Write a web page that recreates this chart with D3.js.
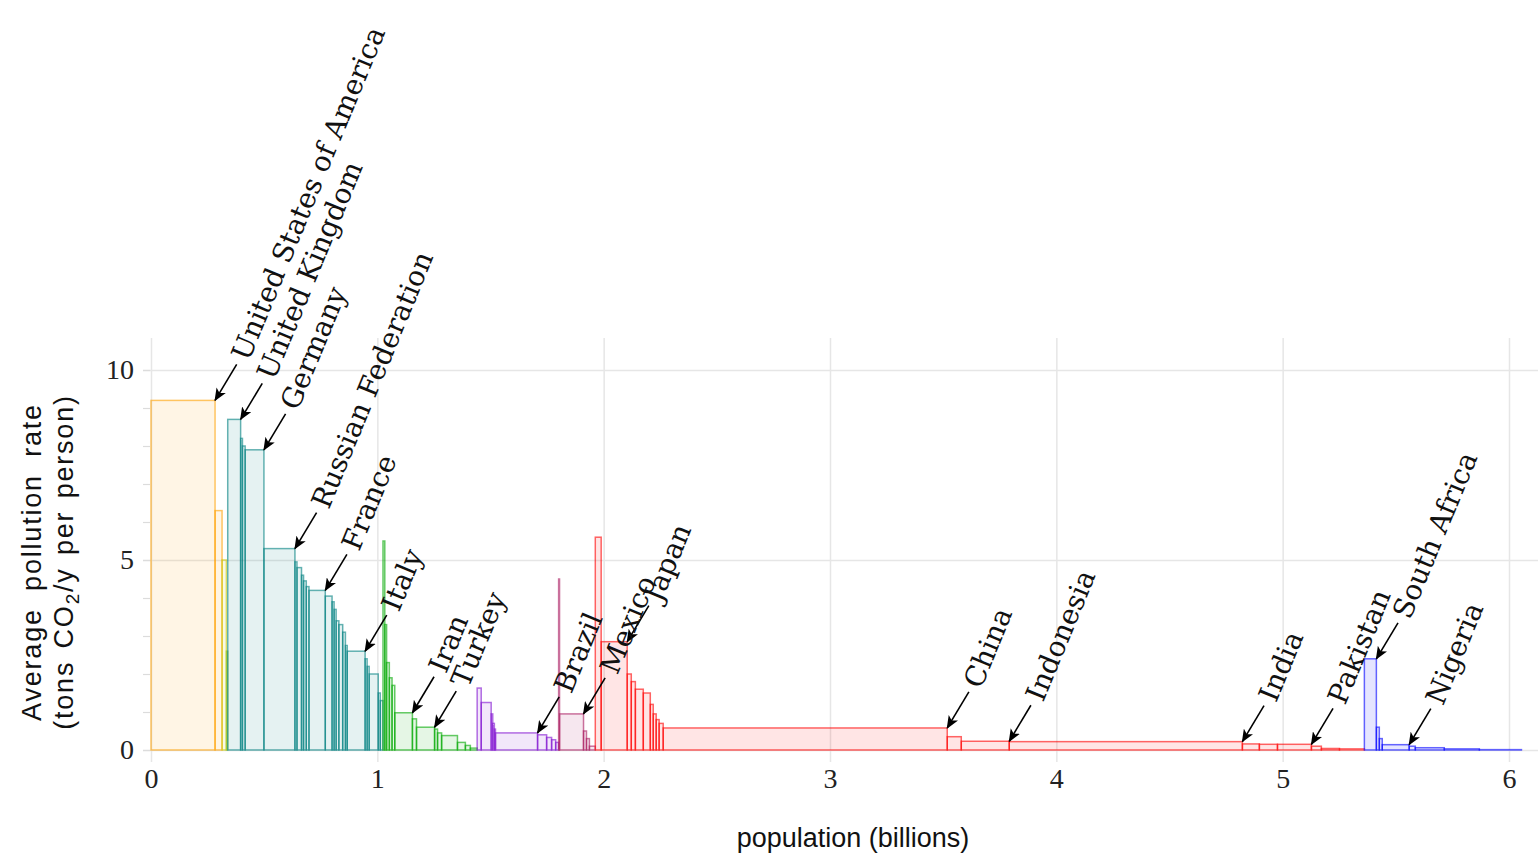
<!DOCTYPE html>
<html>
<head>
<meta charset="utf-8">
<script src="https://cdn.jsdelivr.net/npm/d3@7/dist/d3.min.js"></script>
<style>
  body { margin: 0; background: #fff; }
</style>
</head>
<body>
<div id="chart"></div>
<script>
// one entry per bar, in drawing order (left to right)
var barRegion = ["NA","NA","OC","OC2",
  "EU","EU","EU","EU","EU","EU","EU","EU","EU","EU","EU","EU","EU","EU","EU","EU","EU","EU","EU","EU","EU","EU","EU","EU",
  "ME","ME","ME","ME","ME","ME","ME","ME","ME","ME","ME","ME","ME","ME",
  "LA","LA","LA","LA","LA","LA","LA","LA","LA","LA",
  "CA","CA","CA","CA","CA",
  "AS","AS","AS","AS","AS","AS","AS","AS","AS","AS","AS","AS","AS","AS","AS","AS","AS","AS","AS","AS",
  "AF","AF","AF","AF","AF","AF","AF","AF"];

// population, billions
var barPop = [0.283, 0.031, 0.019, 0.006,
  0.057, 0.008, 0.012, 0.083, 0.137, 0.009, 0.020, 0.009, 0.012, 0.012, 0.072, 0.030, 0.009, 0.009, 0.012, 0.017, 0.012, 0.008, 0.079, 0.009, 0.009, 0.040, 0.009, 0.012,
  0.008, 0.008, 0.012, 0.012, 0.012, 0.078, 0.018, 0.080, 0.013, 0.018, 0.070, 0.035, 0.022, 0.030,
  0.018, 0.044, 0.007, 0.007, 0.005, 0.186, 0.040, 0.022, 0.018, 0.013,
  0.004, 0.106, 0.013, 0.013, 0.026,
  0.026, 0.115, 0.018, 0.018, 0.035, 0.031, 0.013, 0.013, 0.013, 0.018, 1.255, 0.062, 0.212, 1.030, 0.075, 0.080, 0.150, 0.044, 0.080, 0.110,
  0.053, 0.013, 0.013, 0.119, 0.027, 0.128, 0.155, 0.186];

// tons CO2 per year per person
var barRate = [9.2, 6.3, 5.0, 2.6,
  8.7, 8.2, 8.0, 7.9, 5.3, 4.95, 4.8, 4.6, 4.45, 4.3, 4.2, 4.05, 3.9, 3.7, 3.4, 3.3, 3.1, 2.75, 2.6, 2.4, 2.2, 2.0, 1.5, 1.3,
  5.5, 3.3, 2.3, 1.9, 1.7, 0.98, 0.82, 0.6, 0.55, 0.45, 0.38, 0.2, 0.12, 0.05,
  1.63, 1.25, 0.95, 0.7, 0.55, 0.45, 0.4, 0.33, 0.27, 0.2,
  4.5, 0.95, 0.5, 0.3, 0.1,
  5.6, 2.85, 2.0, 1.8, 1.6, 1.5, 1.2, 0.95, 0.8, 0.7, 0.58, 0.35, 0.23, 0.22, 0.16, 0.15, 0.15, 0.1, 0.04, 0.03,
  2.4, 0.6, 0.3, 0.14, 0.1, 0.06, 0.03, 0.01];

// countries that get an arrow label, with their bar index
var labelNames = ["United States of America", "United Kingdom", "Germany", "Russian Federation", "France", "Italy",
  "Iran", "Turkey", "Brazil", "Mexico", "Japan", "China", "Indonesia", "India", "Pakistan", "South Africa", "Nigeria"];
var labelBars = [0, 4, 7, 8, 14, 22, 33, 35, 47, 53, 58, 67, 69, 70, 73, 77, 80];

var xTicks = [0, 1, 2, 3, 4, 5, 6];
var yTicks = [0, 5, 10];

var color = d3.scaleOrdinal()
  .domain(["NA", "OC", "OC2", "EU", "ME", "LA", "CA", "AS", "AF"])
  .range(["#ffa000", "#c8c800", "#8cbf1a", "#008080", "#00a800", "#8010d0", "#a8185e", "#ff0000", "#0000ff"]);

var width = 1538, height = 856;
var x = d3.scaleLinear().domain([0, 6]).range([151, 1509]);
var y = d3.scaleLinear().domain([0, 10]).range([750, 370]);

var svg = d3.select("#chart").append("svg")
  .attr("width", width)
  .attr("height", height);

// gridlines
svg.append("g")
  .attr("class", "grid")
  .attr("transform", "translate(0,762)")
  .call(d3.axisBottom(x).tickValues(xTicks).tickSize(-424).tickFormat(""));
svg.append("g")
  .attr("class", "grid")
  .attr("transform", "translate(143,0)")
  .call(d3.axisLeft(y).tickValues(yTicks).tickSize(-1395).tickFormat(""));
svg.selectAll(".grid .domain").remove();
svg.selectAll(".grid line").attr("stroke", "#e6e6e6").attr("stroke-width", 1.5);

// small y ticks
var minor = svg.append("g")
  .attr("transform", "translate(150,0)")
  .call(d3.axisLeft(y).tickValues(d3.range(0, 11)).tickSize(7).tickFormat(""));
minor.select(".domain").remove();
minor.selectAll("line").attr("stroke", "#dcdcdc").attr("stroke-width", 1.2);

// tick labels
var xl = svg.append("g")
  .attr("transform", "translate(0,764)")
  .call(d3.axisBottom(x).tickValues(xTicks).tickSize(0).tickPadding(4).tickFormat(d3.format("d")));
var yl = svg.append("g")
  .attr("transform", "translate(143,0)")
  .call(d3.axisLeft(y).tickValues(yTicks).tickSize(0).tickPadding(9).tickFormat(d3.format("d")));
[xl, yl].forEach(function(g) {
  g.select(".domain").remove();
  g.selectAll("text")
    .attr("font-family", "'Liberation Serif', serif")
    .attr("font-size", 28)
    .attr("fill", "#222");
});

// bars
var cum = 0;
var bars = barPop.map(function(p, i) {
  var b = { x0: cum, x1: cum + p, rate: barRate[i], region: barRegion[i] };
  cum += p;
  return b;
});

svg.append("g").selectAll("rect")
  .data(bars)
  .join("rect")
  .attr("x", function(d) { return x(d.x0); })
  .attr("y", function(d) { return y(d.rate); })
  .attr("width", function(d) { return x(d.x1) - x(d.x0); })
  .attr("height", function(d) { return y(0) - y(d.rate); })
  .attr("fill", function(d) { return color(d.region); })
  .attr("fill-opacity", 0.1)
  .attr("stroke", function(d) { return color(d.region); })
  .attr("stroke-opacity", 0.6)
  .attr("stroke-width", 1.5);

// arrow labels
svg.append("defs").append("marker")
  .attr("id", "arrow")
  .attr("viewBox", "0 0 12 10")
  .attr("refX", 11)
  .attr("refY", 5)
  .attr("markerWidth", 13)
  .attr("markerHeight", 11)
  .attr("markerUnits", "userSpaceOnUse")
  .attr("orient", "auto")
  .append("path")
  .attr("d", "M0,0 L12,5 L0,10 L3,5 Z")
  .attr("fill", "#000");

var aAng = 59 * Math.PI / 180, aLen = 42;
var tAng = 67.5;
var notes = labelBars.map(function(bi, i) {
  var tx = x(bars[bi].x1), ty = y(bars[bi].rate);
  return { name: labelNames[i], tx: tx, ty: ty,
    sx: tx + aLen * Math.cos(aAng), sy: ty - aLen * Math.sin(aAng) };
});

var ann = svg.append("g");
ann.selectAll("line")
  .data(notes)
  .join("line")
  .attr("x1", function(d) { return d.sx; })
  .attr("y1", function(d) { return d.sy; })
  .attr("x2", function(d) { return d.tx; })
  .attr("y2", function(d) { return d.ty; })
  .attr("stroke", "#000")
  .attr("stroke-width", 1.6)
  .attr("marker-end", "url(#arrow)");

ann.selectAll("text")
  .data(notes)
  .join("text")
  .attr("transform", function(d) {
    return "translate(" + (d.sx + 3) + "," + (d.sy - 6) + ") rotate(" + (-tAng) + ")";
  })
  .attr("dy", "0.35em")
  .attr("font-family", "'DejaVu Serif', serif")
  .attr("font-size", 28)
  .attr("fill", "#111")
  .text(function(d) { return d.name; });

// axis titles
svg.append("text")
  .attr("x", 853)
  .attr("y", 847)
  .attr("text-anchor", "middle")
  .attr("font-family", "'Liberation Sans', sans-serif")
  .attr("font-size", 27)
  .attr("fill", "#111")
  .text("population (billions)");

var yt = svg.append("text")
  .attr("transform", "translate(0,562) rotate(-90)")
  .attr("text-anchor", "middle")
  .attr("font-family", "'Liberation Sans', sans-serif")
  .attr("font-size", 27)
  .attr("letter-spacing", 1.8)
  .attr("fill", "#111");
yt.append("tspan").attr("x", 0).attr("y", 41).attr("word-spacing", 8).text("Average pollution rate");
var l2 = yt.append("tspan").attr("x", 0).attr("y", 73).attr("word-spacing", 3);
l2.append("tspan").text("(tons CO");
l2.append("tspan").attr("font-size", 19).attr("dy", 6).text("2");
l2.append("tspan").attr("dy", -6).text("/y per person)");
</script>
</body>
</html>
